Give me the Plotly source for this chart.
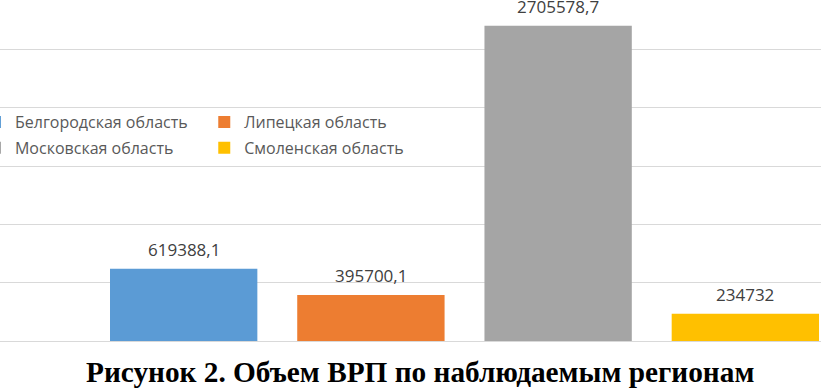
import plotly.graph_objects as go

regions = ["Белгородская область", "Липецкая область", "Московская область", "Смоленская область"]
values = [619388.1, 395700.1, 2705578.7, 234732]
labels = ["619388,1", "395700,1", "2705578,7", "234732"]
colors = ["#5B9BD5", "#ED7D31", "#A5A5A5", "#FFC000"]
legend_ids = ["legend", "legend2", "legend", "legend2"]
title_text = "Рисунок 2. Объем ВРП по наблюдаемым регионам"

fig = go.Figure()
for i, (name, v, c, lg) in enumerate(zip(regions, values, colors, legend_ids)):
    fig.add_trace(go.Bar(
        x=[i], y=[v], width=[0.787], name=name,
        marker=dict(color=c, line=dict(width=0)),
        legend=lg, legendgroup=name, hoverinfo="skip",
    ))
    fig.add_annotation(
        x=i, y=v, text=labels[i], showarrow=False,
        xref="x", yref="y", yanchor="bottom", yshift=6,
        font=dict(family="Open Sans", size=17, color="#404040"),
    )

fig.add_annotation(
    text="<b>" + title_text + "</b>", showarrow=False,
    xref="paper", yref="paper", x=0.5116, y=-0.092,
    xanchor="center", yanchor="middle",
    font=dict(family="Liberation Serif", size=29.3, color="black"),
)

legend_style = dict(y=0.692, xanchor="left", yanchor="top", orientation="v",
                    traceorder="grouped", tracegroupgap=2,
                    bgcolor="rgba(0,0,0,0)",
                    font=dict(family="Open Sans", size=16, color="#595959"))

fig.update_layout(
    width=821, height=388,
    margin=dict(l=0, r=0, t=0, b=47, autoexpand=False),
    paper_bgcolor="white", plot_bgcolor="white",
    barmode="overlay",
    showlegend=True,
    xaxis=dict(range=[-0.981, 3.404], showgrid=False, zeroline=False,
               showticklabels=False, ticks="", showline=False),
    yaxis=dict(range=[0, 2925550], dtick=500000, showgrid=True,
               gridcolor="#D9D9D9", gridwidth=1, zeroline=True,
               zerolinecolor="#D9D9D9", zerolinewidth=1,
               showticklabels=False, ticks="", showline=False),
    legend=dict(x=-0.0305, **legend_style),
    legend2=dict(x=0.2488, **legend_style),
)

fig.write_html("out.html", config={"displayModeBar": False},
               post_script="document.body.style.margin='0';")
